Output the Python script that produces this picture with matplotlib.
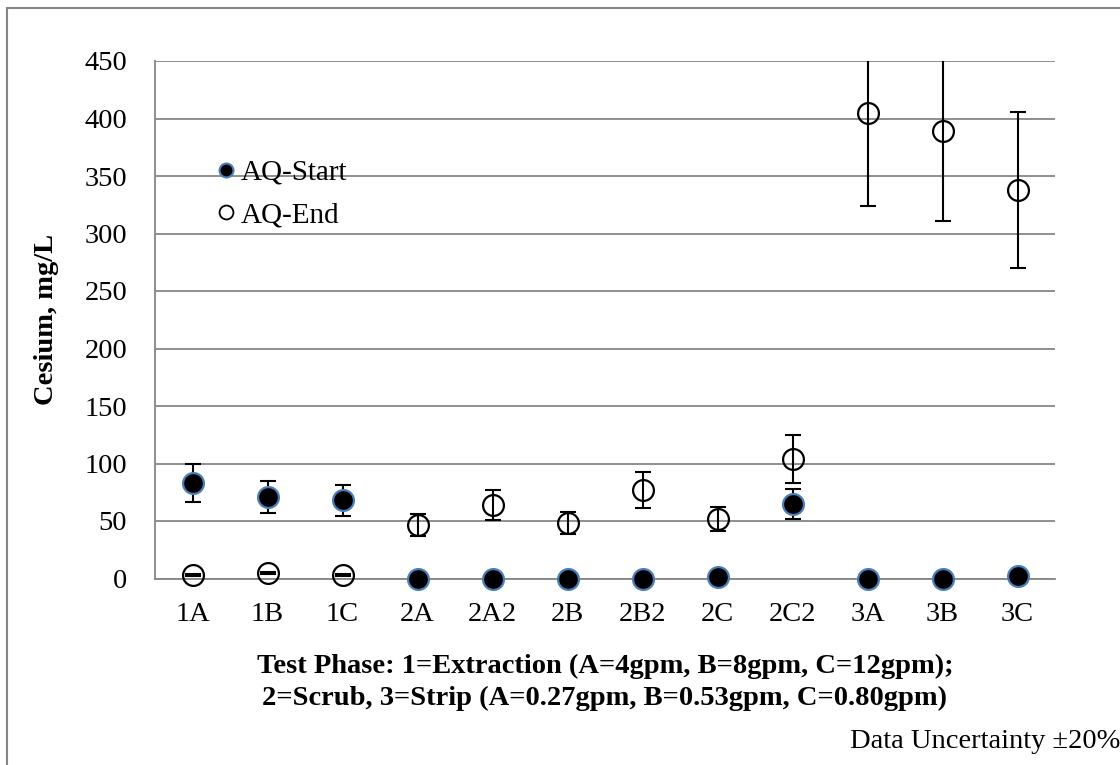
import matplotlib.pyplot as plt
from matplotlib.patches import Rectangle
from matplotlib.lines import Line2D

# test phases and cesium concentrations (mg/L)
phases = ['1A', '1B', '1C', '2A', '2A2', '2B', '2B2', '2C', '2C2', '3A', '3B', '3C']
aq_start = [83, 71, 68, 0, 0, 0, 0, 1, 65, 0, 0, 2]
aq_end = [3, 4.5, 3, 46.5, 64, 48, 77, 51.5, 104, 405, 389, 338]
uncertainty = 0.20

plt.rcParams['font.family'] = ['Liberation Serif', 'DejaVu Serif']
grid_c = '#868686'

fig = plt.figure(figsize=(11.2, 7.65), dpi=100)
ax = fig.add_axes([155 / 1120, 1 - 578.5 / 765, 900 / 1120, 517.5 / 765])

x = list(range(len(phases)))
err_start = [v * uncertainty for v in aq_start]
err_end = [v * uncertainty for v in aq_end]

ax.errorbar(x, aq_start, yerr=err_start, fmt='none', ecolor='black',
            elinewidth=1.5, capsize=6, capthick=1.5, zorder=3)
ax.plot(x, aq_start, 'o', ms=15, mfc='black', mec='#4A7EBB', mew=1.6,
        zorder=4, clip_on=False)
ax.errorbar(x, aq_end, yerr=err_end, fmt='none', ecolor='black',
            elinewidth=1.5, capsize=6, capthick=1.5, zorder=5)
ax.plot(x, aq_end, 'o', ms=15, mfc='none', mec='black', mew=1.6, zorder=6,
        clip_on=False)

ax.set_xlim(-0.5, len(phases) - 0.5)
ax.set_ylim(0, 450)
ax.set_yticks(range(0, 451, 50))
ax.set_xticks(x)
ax.set_xticklabels(phases)
ax.tick_params(axis='both', length=0, labelsize=20.5)
ax.tick_params(axis='x', pad=17)
ax.tick_params(axis='y', pad=20)

ax.grid(axis='y', color=grid_c, lw=1.3)
ax.set_axisbelow(True)
for s in ['top', 'right']:
    ax.spines[s].set_visible(False)
for s in ['left', 'bottom']:
    ax.spines[s].set_color(grid_c)
    ax.spines[s].set_linewidth(1.3)
    ax.spines[s].set_zorder(2)

ax.set_ylabel('Cesium, mg/L', fontsize=20.5, fontweight='bold', labelpad=18)
ax.set_xlabel('Test Phase: 1=Extraction (A=4gpm, B=8gpm, C=12gpm);\n'
              '2=Scrub, 3=Strip (A=0.27gpm, B=0.53gpm, C=0.80gpm)',
              fontsize=20.5, fontweight='bold', labelpad=19, linespacing=1.35)

handles = [
    Line2D([], [], ls='none', marker='o', ms=10, mfc='black', mec='#4A7EBB',
           mew=1.5, label='AQ-Start'),
    Line2D([], [], ls='none', marker='o', ms=10, mfc='none', mec='black',
           mew=1.3, label='AQ-End'),
]
ax.legend(handles=handles, loc='upper left', bbox_to_anchor=(0.053, 0.838),
          frameon=False, fontsize=21, handlelength=0.6, handletextpad=0.2,
          labelspacing=0.55, borderpad=0)

fig.text(850 / 1120, 1 - 741 / 765, 'Data Uncertainty \u00b120%',
         fontsize=20.5, va='center', ha='left')

# outer chart border
fig.patches.append(Rectangle((7 / 1120, -0.05), 1.2, 1 - 8 / 765 + 0.05,
                             transform=fig.transFigure, fill=False,
                             ec=grid_c, lw=1.5))

fig.savefig('out.png', dpi=100)
